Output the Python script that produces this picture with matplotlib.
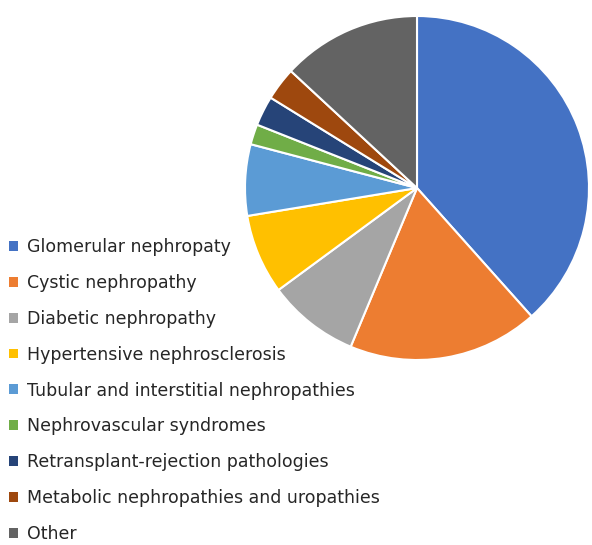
import matplotlib.pyplot as plt

# causes of kidney failure - share of patients (%)
labels = ['Glomerular nephropaty', 'Cystic nephropathy', 'Diabetic nephropathy',
          'Hypertensive nephrosclerosis', 'Tubular and interstitial nephropathies',
          'Nephrovascular syndromes', 'Retransplant-rejection pathologies',
          'Metabolic nephropathies and uropathies', 'Other']
shares = [38.4, 17.9, 8.6, 7.5, 6.7, 1.9, 2.8, 3.1, 13.1]
colors = ['#4472C4', '#ED7D31', '#A5A5A5', '#FFC000', '#5B9BD5',
          '#70AD47', '#264478', '#9E480E', '#636363']

fig = plt.figure(figsize=(5.92, 5.45), dpi=100)
ax = fig.add_axes([245 / 592, 1 - 360 / 545, 344 / 592, 344 / 545])

wedges, _ = ax.pie(shares, colors=colors, startangle=90, counterclock=False,
                   radius=1, wedgeprops={'edgecolor': 'white', 'linewidth': 1.5})
ax.set_xlim(-1, 1)
ax.set_ylim(-1, 1)
ax.set_aspect('equal')
ax.axis('off')

leg = fig.legend(wedges, labels, loc='upper left', bbox_to_anchor=(9 / 592, 1 - 238 / 545),
                 frameon=False, fontsize=12.5, borderpad=0, borderaxespad=0,
                 handlelength=0.5, handleheight=0.5, handletextpad=0.55,
                 labelspacing=1.03)
for t in leg.get_texts():
    t.set_color('#262626')
for h in leg.legend_handles:
    h.set_edgecolor('none')

fig.savefig('out.png', dpi=100)
